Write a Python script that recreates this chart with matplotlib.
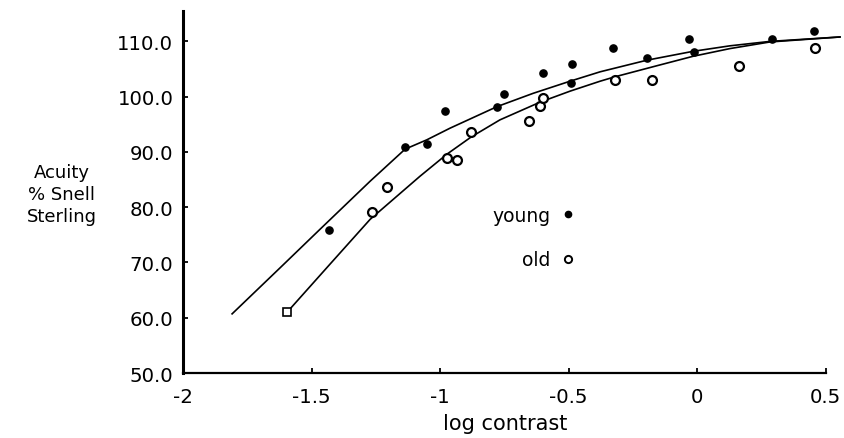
import matplotlib
matplotlib.use("Agg")
import matplotlib.pyplot as plt
from matplotlib.lines import Line2D

plt.rcParams['font.family'] = ['DejaVu Sans']

# Observed data points
young_x = [-1.432, -1.136, -1.051, -0.981, -0.778, -0.751, -0.599, -0.486, -0.490,
           -0.327, -0.195, -0.031, -0.012, 0.292, 0.455]
young_y = [75.9, 90.9, 91.4, 97.4, 98.1, 100.5, 104.3, 105.9, 102.4,
           108.8, 107.0, 110.4, 108.1, 110.4, 111.8]

old_x = [-1.595, -1.265, -1.206, -0.973, -0.934, -0.879, -0.654, -0.611, -0.599,
         -0.319, -0.175, 0.163, 0.459]
old_y = [61.0, 79.1, 83.6, 88.9, 88.5, 93.6, 95.6, 98.3, 99.7,
         103.0, 103.0, 105.5, 108.8]

# Fitted curves
young_fit_x = [-1.809, -1.623, -1.467, -1.272, -1.136, -1.051, -0.961, -0.778, -0.638,
               -0.494, -0.377, -0.195, -0.016, 0.128, 0.284, 0.556]
young_fit_y = [60.7, 69.0, 76.0, 84.7, 90.5, 92.2, 94.3, 98.2, 100.6,
               102.8, 104.5, 106.6, 108.2, 109.2, 110.0, 110.8]

old_fit_x = [-1.595, -1.428, -1.272, -1.078, -0.973, -0.879, -0.767, -0.611, -0.494,
             -0.377, -0.319, -0.156, -0.016, 0.128, 0.284, 0.556]
old_fit_y = [61.0, 69.7, 77.8, 85.6, 89.6, 92.7, 95.8, 99.0, 101.0,
             102.8, 103.6, 105.6, 107.3, 108.7, 109.9, 110.8]

x_ticks = [-2, -1.5, -1, -0.5, 0, 0.5]
x_tick_labels = ['-2', '-1.5', '-1', '-0.5', '0', '0.5']
y_ticks = [50, 60, 70, 80, 90, 100, 110]
y_tick_labels = ['50.0', '60.0', '70.0', '80.0', '90.0', '100.0', '110.0']
series_labels = ['young', 'old']

fig = plt.figure(figsize=(8.44, 4.39), dpi=100)
ax = fig.add_axes([183 / 844, 1 - 374 / 439, 658 / 844, 362 / 439])

ax.plot(young_fit_x, young_fit_y, color='black', lw=1.2, zorder=2)
ax.plot(old_fit_x, old_fit_y, color='black', lw=1.2, zorder=2)

ax.plot(young_x, young_y, linestyle='none', marker='o', ms=5.2,
        mfc='black', mec='black', zorder=3)
ax.plot(old_x[1:], old_y[1:], linestyle='none', marker='o', ms=6.4,
        mfc='white', mec='black', mew=1.6, zorder=3)
ax.plot(old_x[:1], old_y[:1], linestyle='none', marker='s', ms=6.2,
        mfc='white', mec='black', mew=1.2, zorder=3)

ax.set_xlim(-2, 0.56)
ax.set_ylim(50, 115.5)
ax.set_xticks(x_ticks)
ax.set_xticklabels(x_tick_labels)
ax.set_yticks(y_ticks)
ax.set_yticklabels(y_tick_labels)

for s in ['top', 'right']:
    ax.spines[s].set_visible(False)
ax.spines['left'].set_linewidth(2.2)
ax.spines['bottom'].set_linewidth(1.6)
ax.spines['bottom'].set_bounds(-2, 0.5)

ax.tick_params(axis='both', direction='in', length=3.5, width=1.3,
               labelsize=14.2, colors='black')
ax.tick_params(axis='x', pad=10)
ax.tick_params(axis='y', pad=7)

ax.set_xlabel('log contrast', fontsize=15)
ax.xaxis.set_label_coords((505 - 183) / 658, -(424 - 374) / 362)
ax.xaxis.label.set_verticalalignment('center')

fig.text(62 / 844, 1 - 195 / 439, 'Acuity\n% Snell\nSterling', fontsize=13,
         ha='center', va='center', linespacing=1.3)

handles = [
    Line2D([], [], linestyle='none', marker='o', ms=4.5, mfc='black', mec='black'),
    Line2D([], [], linestyle='none', marker='o', ms=5.2, mfc='white', mec='black', mew=1.4),
]
leg = ax.legend(handles, series_labels, loc='upper right', frameon=False,
                markerfirst=False, fontsize=13.5, handlelength=1.0,
                handletextpad=0.4, labelspacing=1.35, borderpad=0,
                borderaxespad=0,
                bbox_to_anchor=(577 / 844, 1 - 207 / 439),
                bbox_transform=fig.transFigure)

fig.savefig('out.png', dpi=100)
